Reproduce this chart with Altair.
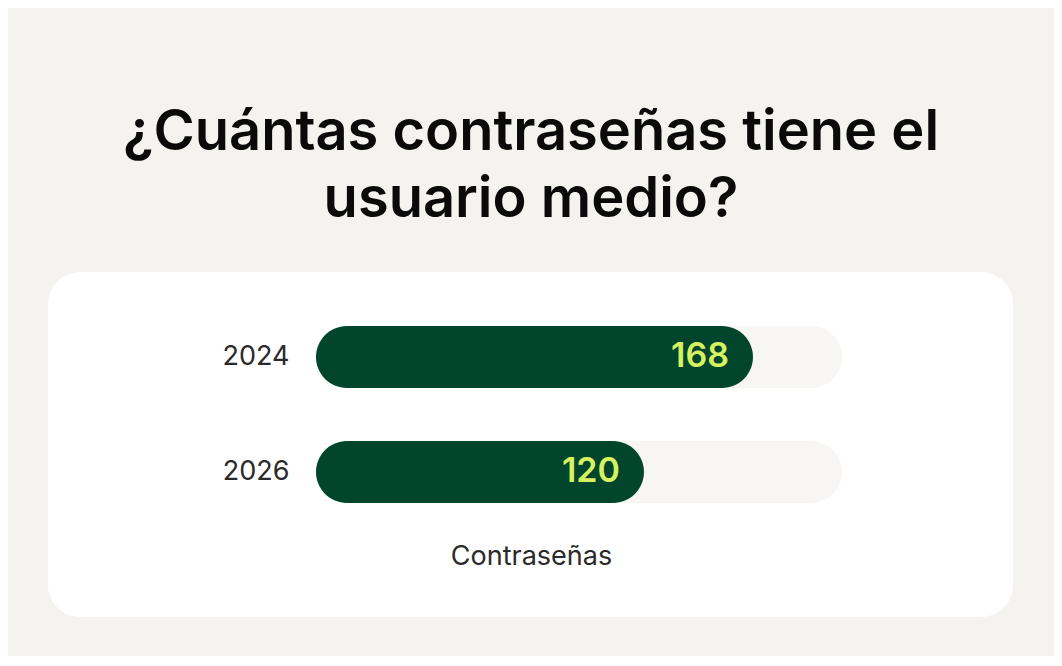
import altair as alt
import pandas as pd

years = ["2024", "2026"]
passwords = [168, 120]

df = pd.DataFrame({"year": years, "value": passwords})

W, H = 526, 230
FONT = "Inter"
X0 = -24.4

y_enc = alt.Y(
    "year:N",
    sort=years,
    scale=alt.Scale(domain=years, paddingInner=0, paddingOuter=0),
    axis=alt.Axis(
        title=None, ticks=False, domain=False, grid=False,
        labelFont=FONT, labelFontSize=27, labelColor="#2a2a2a",
        labelPadding=27, zindex=2,
    ),
)

x_scale = alt.Scale(domain=[X0, 207.2], nice=False, zero=False)

card = alt.Chart(alt.Data(values=[{"k": 1}])).mark_rect(
    fill="#ffffff", cornerRadius=32
).encode(
    x=alt.value(-268), x2=alt.value(697),
    y=alt.value(-27.5), y2=alt.value(317.5),
)

track = alt.Chart(df).mark_bar(
    color="#f7f6f4", cornerRadius=31, height=62
).encode(
    y=y_enc,
    x=alt.value(0),
    x2=alt.value(W),
)

bars = alt.Chart(df).mark_bar(
    color="#00452c", cornerRadius=31, height=62
).encode(
    y=y_enc,
    x=alt.X(
        "value:Q", scale=x_scale,
        axis=alt.Axis(
            title="Contraseñas", labels=False, ticks=False, domain=False, grid=False,
            titleFont=FONT, titleFontSize=27, titleFontWeight="normal",
            titleColor="#2a2a2a", titleX=215, titleY=35, titleAnchor="middle",
            titleAlign="center", titleBaseline="alphabetic", zindex=2,
        ),
    ),
    x2=alt.datum(X0),
)

labels = alt.Chart(df).mark_text(
    align="right", baseline="middle", dx=-24, font=FONT, fontSize=34,
    fontWeight=600, color="#d6f260",
).encode(
    y=y_enc,
    x=alt.X("value:Q", scale=x_scale),
    text=alt.Text("value:Q"),
)

chart = alt.layer(card, track, bars, labels).properties(
    width=W,
    height=H,
    autosize=alt.AutoSizeParams(type="none"),
    padding={"left": 308, "top": 291.5, "right": 212, "bottom": 126},
    title=alt.TitleParams(
        text=["¿Cuántas contraseñas tiene el", "usuario medio?"],
        font=FONT, fontSize=56, fontWeight=600, color="#0a0a0a",
        anchor="middle", frame="group", dx=-48, offset=43, lineHeight=67,
    ),
    background="#f4f3f0",
).configure_view(stroke=None)

chart.save("out.html", embed_options={"renderer": "svg", "actions": False})
